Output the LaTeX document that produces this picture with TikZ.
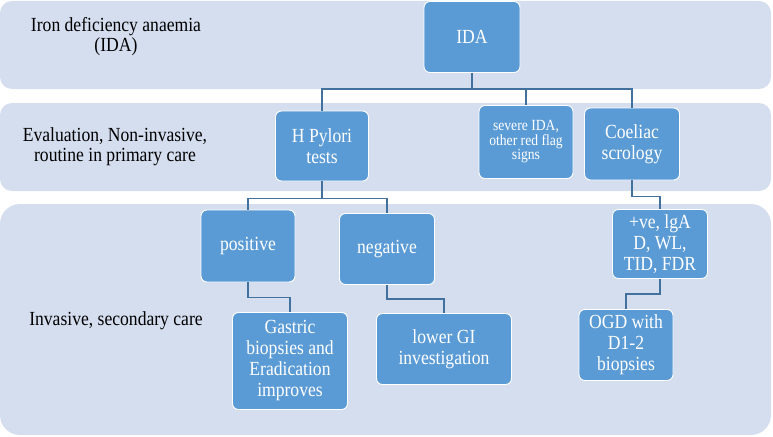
\documentclass[tikz,border=0pt]{standalone}
\usepackage{fontspec}
\setmainfont{Liberation Serif}[FakeStretch=0.88]
\usetikzlibrary{positioning}

\definecolor{bandfill}{HTML}{D5DEEF}
\definecolor{boxfill}{HTML}{5B9BD5}
\definecolor{linkblue}{HTML}{41719C}

\tikzset{
  band/.style={fill=bandfill, draw=none, rounded corners=12pt},
  stage/.style={align=center, text=black, font=\fontsize{20}{20}\selectfont},
  flowbox/.style={draw=white, line width=0.9pt, fill=boxfill, rounded corners=6pt,
    align=center, text=white, inner sep=2pt, font=\fontsize{20}{21}\selectfont},
  link/.style={draw=linkblue, line width=1.3pt}
}

\begin{document}
\begin{tikzpicture}
\begin{scope}[x=1pt, y=-1pt]
\useasboundingbox (0,0) rectangle (773,436);

\fill[band] (0,1) rectangle (771,89);
\fill[band] (0,103) rectangle (771,191);
\fill[band, rounded corners=20pt] (0,204) rectangle (771,435);

\node[stage] (lvlida) at (116,37) {Iron deficiency anaemia\\(IDA)};
\node[stage] (lvleval) at (115,147) {Evaluation, Non-invasive,\\routine in primary care};
\node[stage] (lvlinv) at (116,321) {Invasive, secondary care};

\node[flowbox, minimum width=96pt, minimum height=71pt] (ida) at (472,37) {IDA};
\node[flowbox, minimum width=93pt, minimum height=70pt] (hpylori) at (322,146) {H Pylori\\tests};
\node[flowbox, minimum width=94pt, minimum height=73pt, font=\fontsize{15.5}{14.5}\selectfont] (severe) at (526,142) {severe IDA,\\other red flag\\signs};
\node[flowbox, minimum width=95pt, minimum height=72pt] (coeliac) at (632,144) {Coeliac\\scrology};
\node[flowbox, minimum width=94pt, minimum height=72pt] (positive) at (248,246) {positive};
\node[flowbox, minimum width=95pt, minimum height=71pt] (negative) at (387,249) {negative};
\node[flowbox, minimum width=115pt, minimum height=97pt] (gastric) at (290,361) {Gastric\\biopsies and\\Eradication\\improves};
\node[flowbox, minimum width=135pt, minimum height=71pt] (lowergi) at (444,349) {lower GI\\investigation};
\node[flowbox, minimum width=95pt, minimum height=69pt] (ive) at (660,244) {+ve, lgA\\D, WL,\\TID, FDR};
\node[flowbox, minimum width=94pt, minimum height=71pt] (ogd) at (626,345) {OGD with\\D1-2\\biopsies};

\draw[link] (ida.south) -- ++(0,16) -| (hpylori.north);
\draw[link] (ida.south) -- ++(0,16) -| (severe.north);
\draw[link] (ida.south) -- ++(0,16) -| (coeliac.north);
\draw[link] (hpylori.south) -- ++(0,17) -| (positive.north);
\draw[link] (hpylori.south) -- ++(0,17) -| (negative.north);
\draw[link] (coeliac.south) -- ++(0,16) -| (ive.north);
\draw[link] (positive.south) -- ++(0,15) -| (gastric.north);
\draw[link] (negative.south) -- ++(0,14) -| (lowergi.north);
\draw[link] (ive.south) -- ++(0,15) -| (ogd.north);

\end{scope}
\end{tikzpicture}
\end{document}
